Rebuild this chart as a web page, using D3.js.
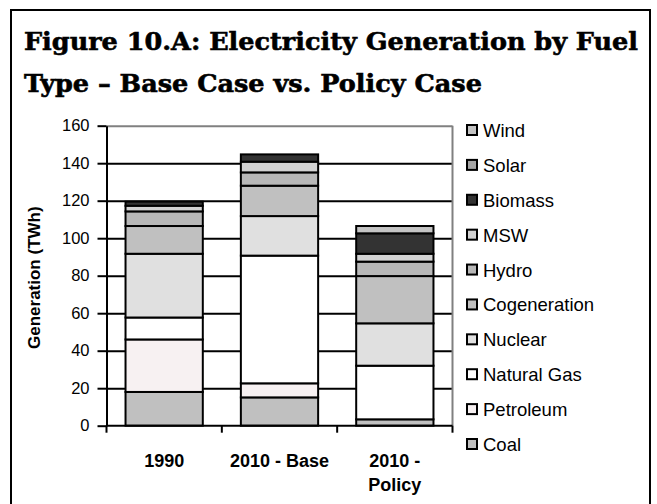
<!DOCTYPE html>
<html lang="en">
<head>
<meta charset="UTF-8">
<title>Electricity Generation by Fuel Type</title>
<style>
  body { margin: 0; padding: 0; background: #fff; }
  svg { display: block; font-family: "Liberation Sans", Arial, sans-serif; }
</style>
</head>
<body>
<svg width="657" height="504"></svg>
<script src="https://d3js.org/d3.v7.min.js"></script>
<script>
// === data (TWh), one value per case ===
const cases = ["1990", "2010 - Base", "2010 - Policy"];
const fuels = ["Coal", "Petroleum", "Natural Gas", "Nuclear", "Cogeneration", "Hydro", "MSW", "Biomass", "Solar", "Wind"];
const coal         = [18.0, 15.1, 3.4];
const petroleum    = [28.0, 7.5, 0];
const naturalGas   = [11.7, 68.1, 28.6];
const nuclear      = [34.0, 21.1, 22.6];
const cogeneration = [14.8, 16.2, 25.2];
const hydro        = [7.8, 7.1, 7.7];
const msw          = [3.0, 5.7, 4.2];
const biomass      = [2.2, 3.9, 10.9];
const solar        = [0, 0, 0];
const wind         = [0, 0, 3.9];
const yTicks = [0, 20, 40, 60, 80, 100, 120, 140, 160];
const fuelColors = ["#c0c0c0", "#f7f1f2", "#ffffff", "#e0e0e0", "#c0c0c0", "#b8b8b8", "#d2d2d2", "#333333", "#a6a6a6", "#c4c4c4"];

const series = [coal, petroleum, naturalGas, nuclear, cogeneration, hydro, msw, biomass, solar, wind];
const table = cases.map((c, i) => {
  const row = {case: c};
  fuels.forEach((f, k) => row[f] = series[k][i]);
  return row;
});

const svg = d3.select("svg");

// outer frame (runs off the bottom of the picture)
svg.append("rect")
  .attr("x", 11).attr("y", 10)
  .attr("width", 639).attr("height", 520)
  .attr("fill", "#fff").attr("stroke", "#000").attr("stroke-width", 2);

// title
const titleLines = ["Figure 10.A: Electricity Generation by Fuel", "Type \u2013 Base Case vs. Policy Case"];
const title = svg.append("g")
  .attr("font-family", "'DejaVu Serif', 'Liberation Serif', serif")
  .attr("font-weight", "bold")
  .attr("font-size", 25)
  .attr("stroke", "#000")
  .attr("stroke-width", 0.6);
const t1 = title.append("text").attr("x", 24).attr("y", 50).text(titleLines[0]);
const t2 = title.append("text").attr("x", 24).attr("y", 92).text(titleLines[1]);
const k = 614 / t1.node().getComputedTextLength();
t1.attr("textLength", 614).attr("lengthAdjust", "spacingAndGlyphs");
t2.attr("textLength", t2.node().getComputedTextLength() * k).attr("lengthAdjust", "spacingAndGlyphs");

// plot area
const plotLeft = 106.5, plotRight = 452.5, plotTop = 125.7, plotBottom = 425.7;

const x = d3.scaleBand()
  .domain(cases)
  .range([plotLeft, plotRight])
  .paddingInner(0.33)
  .paddingOuter(0.165);

const y = d3.scaleLinear()
  .domain([0, 160])
  .range([plotBottom, plotTop]);

// gridlines
const grid = svg.append("g")
  .attr("transform", `translate(${plotLeft},0)`)
  .call(d3.axisLeft(y).tickValues(yTicks.slice(1)).tickSize(-(plotRight - plotLeft)).tickFormat(""));
grid.select(".domain").remove();
grid.selectAll("line")
  .attr("stroke", d => d === 160 ? "#808080" : "#000")
  .attr("stroke-width", 2);

// right border of plot area
svg.append("line")
  .attr("x1", plotRight).attr("x2", plotRight)
  .attr("y1", plotTop).attr("y2", plotBottom)
  .attr("stroke", "#808080").attr("stroke-width", 2);

// stacked bars
const stack = d3.stack().keys(fuels)(table);

svg.append("g")
  .selectAll("g")
  .data(stack)
  .join("g")
    .attr("fill", (d, i) => fuelColors[i])
  .selectAll("rect")
  .data(d => d.filter(s => s[1] - s[0] > 0))
  .join("rect")
    .attr("x", d => x(d.data.case))
    .attr("width", x.bandwidth())
    .attr("y", d => y(d[1]))
    .attr("height", d => y(d[0]) - y(d[1]))
    .attr("stroke", "#000")
    .attr("stroke-width", 2);

// y axis
const yAxis = svg.append("g")
  .attr("transform", `translate(${plotLeft},0)`)
  .call(d3.axisLeft(y).tickValues(yTicks).tickSize(9).tickSizeOuter(0).tickPadding(8));
yAxis.select(".domain").attr("stroke", "#000").attr("stroke-width", 2);
yAxis.selectAll(".tick line").attr("stroke", "#000").attr("stroke-width", 2);
yAxis.selectAll("text")
  .attr("font-family", "'Liberation Sans', Arial, sans-serif")
  .attr("font-size", 16.5)
  .attr("fill", "#000");

svg.append("text")
  .attr("transform", `translate(40,${(plotTop + plotBottom) / 2 + 2}) rotate(-90)`)
  .attr("text-anchor", "middle")
  .attr("font-weight", "bold")
  .attr("font-size", 17)
  .text("Generation (TWh)");

// x axis: line, ticks between categories, labels
svg.append("line")
  .attr("x1", plotLeft).attr("x2", plotRight)
  .attr("y1", plotBottom).attr("y2", plotBottom)
  .attr("stroke", "#000").attr("stroke-width", 2);

const edges = cases.map(c => x(c) - x.step() * x.paddingInner() / 2).concat([plotRight]);
svg.append("g")
  .selectAll("line")
  .data(edges)
  .join("line")
    .attr("x1", d => d).attr("x2", d => d)
    .attr("y1", plotBottom).attr("y2", plotBottom + 7)
    .attr("stroke", "#000").attr("stroke-width", 2);

const labelLines = {"1990": ["1990"], "2010 - Base": ["2010 - Base"], "2010 - Policy": ["2010 -", "Policy"]};
svg.append("g")
  .selectAll("text")
  .data(cases)
  .join("text")
    .attr("x", d => x(d) + x.bandwidth() / 2)
    .attr("y", 466.5)
    .attr("text-anchor", "middle")
    .attr("font-weight", "bold")
    .attr("font-size", 18)
    .selectAll("tspan")
    .data(d => labelLines[d].map(l => ({l, x: x(d) + x.bandwidth() / 2})))
    .join("tspan")
      .attr("x", d => d.x)
      .attr("dy", (d, i) => i ? 24.5 : 0)
      .text(d => d.l);

// legend (top item = last series)
const legendItems = fuels.map((f, i) => ({f, c: fuelColors[i]})).reverse();
const ly = d3.scalePoint().domain(legendItems.map(d => d.f)).range([130.5, 444.5]);
const legend = svg.append("g")
  .selectAll("g")
  .data(legendItems)
  .join("g")
    .attr("transform", d => `translate(467,${ly(d.f)})`);
legend.append("rect")
  .attr("x", 0).attr("y", -5.5)
  .attr("width", 10).attr("height", 10)
  .attr("fill", d => d.c)
  .attr("stroke", "#000").attr("stroke-width", 2);
legend.append("text")
  .attr("x", 16).attr("y", 6.5)
  .attr("font-size", 18.5)
  .attr("fill", "#000")
  .text(d => d.f);
</script>
</body>
</html>
